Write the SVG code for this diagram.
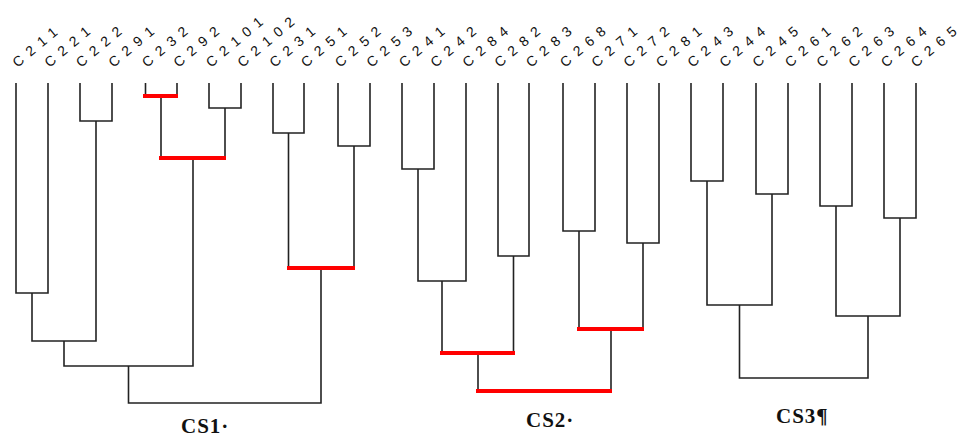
<svg xmlns="http://www.w3.org/2000/svg" width="961" height="438" viewBox="0 0 961 438">
  <style>
    .leaf { font-family: "Liberation Sans", Arial, sans-serif; font-size: 14px; fill: #111; }
    .cluster { font-family: "Liberation Serif", "Times New Roman", serif; font-size: 21px; font-weight: bold; letter-spacing: 1px; fill: #111; }
    .tree { fill: none; stroke: #222; stroke-width: 1.6; }
    .cut { fill: none; stroke: #ff0000; stroke-width: 4; stroke-linecap: butt; }
  </style>
  <rect width="961" height="438" fill="#ffffff"/>

  <!-- leaf labels, tilted 40 degrees up; dx opens the gaps between glyphs -->
  <g id="leaf-C211" transform="translate(17.5,68) rotate(-40)"><text class="leaf" dx="0 7 7 7">C211</text></g>
  <g id="leaf-C221" transform="translate(49.5,68) rotate(-40)"><text class="leaf" dx="0 7 7 7">C221</text></g>
  <g id="leaf-C222" transform="translate(81,68) rotate(-40)"><text class="leaf" dx="0 7 7 7">C222</text></g>
  <g id="leaf-C291" transform="translate(113.5,68) rotate(-40)"><text class="leaf" dx="0 7 7 7">C291</text></g>
  <g id="leaf-C232" transform="translate(147,68) rotate(-40)"><text class="leaf" dx="0 7 7 7">C232</text></g>
  <g id="leaf-C292" transform="translate(178.5,68) rotate(-40)"><text class="leaf" dx="0 7 7 7">C292</text></g>
  <g id="leaf-C2101" transform="translate(211,68) rotate(-40)"><text class="leaf" dx="0 7 7 7 7">C2101</text></g>
  <g id="leaf-C2102" transform="translate(242.5,68) rotate(-40)"><text class="leaf" dx="0 7 7 7 7">C2102</text></g>
  <g id="leaf-C231" transform="translate(274.5,68) rotate(-40)"><text class="leaf" dx="0 7 7 7">C231</text></g>
  <g id="leaf-C251" transform="translate(306,68) rotate(-40)"><text class="leaf" dx="0 7 7 7">C251</text></g>
  <g id="leaf-C252" transform="translate(340,68) rotate(-40)"><text class="leaf" dx="0 7 7 7">C252</text></g>
  <g id="leaf-C253" transform="translate(371.5,68) rotate(-40)"><text class="leaf" dx="0 7 7 7">C253</text></g>
  <g id="leaf-C241" transform="translate(404,68) rotate(-40)"><text class="leaf" dx="0 7 7 7">C241</text></g>
  <g id="leaf-C242" transform="translate(435.5,68) rotate(-40)"><text class="leaf" dx="0 7 7 7">C242</text></g>
  <g id="leaf-C284" transform="translate(467.5,68) rotate(-40)"><text class="leaf" dx="0 7 7 7">C284</text></g>
  <g id="leaf-C282" transform="translate(499.5,68) rotate(-40)"><text class="leaf" dx="0 7 7 7">C282</text></g>
  <g id="leaf-C283" transform="translate(531,68) rotate(-40)"><text class="leaf" dx="0 7 7 7">C283</text></g>
  <g id="leaf-C268" transform="translate(565,68) rotate(-40)"><text class="leaf" dx="0 7 7 7">C268</text></g>
  <g id="leaf-C271" transform="translate(596.5,68) rotate(-40)"><text class="leaf" dx="0 7 7 7">C271</text></g>
  <g id="leaf-C272" transform="translate(628.5,68) rotate(-40)"><text class="leaf" dx="0 7 7 7">C272</text></g>
  <g id="leaf-C281" transform="translate(661,68) rotate(-40)"><text class="leaf" dx="0 7 7 7">C281</text></g>
  <g id="leaf-C243" transform="translate(692.5,68) rotate(-40)"><text class="leaf" dx="0 7 7 7">C243</text></g>
  <g id="leaf-C244" transform="translate(724.5,68) rotate(-40)"><text class="leaf" dx="0 7 7 7">C244</text></g>
  <g id="leaf-C245" transform="translate(757.5,68) rotate(-40)"><text class="leaf" dx="0 7 7 7">C245</text></g>
  <g id="leaf-C261" transform="translate(790,68) rotate(-40)"><text class="leaf" dx="0 7 7 7">C261</text></g>
  <g id="leaf-C262" transform="translate(821.5,68) rotate(-40)"><text class="leaf" dx="0 7 7 7">C262</text></g>
  <g id="leaf-C263" transform="translate(853.5,68) rotate(-40)"><text class="leaf" dx="0 7 7 7">C263</text></g>
  <g id="leaf-C264" transform="translate(886,68) rotate(-40)"><text class="leaf" dx="0 7 7 7">C264</text></g>
  <g id="leaf-C265" transform="translate(916,68) rotate(-40)"><text class="leaf" dx="0 7 7 7">C265</text></g>

  <!-- cluster names under each subtree -->
  <g id="cluster-CS1"><text class="cluster" x="181" y="433">CS1·</text></g>
  <g id="cluster-CS2"><text class="cluster" x="526" y="427">CS2·</text></g>
  <g id="cluster-CS3"><text class="cluster" x="776" y="423">CS3¶</text></g>

  <!-- dendrogram links: each merge drops from both children to its height -->
  <g id="connectors">
    <g class="tree">
      <!-- CS1 -->
      <path d="M16,83 V293 H48 V83"/>
      <path d="M80,83 V121 H112 V83"/>
      <path d="M32,293 V341 H96 V121"/>
      <path d="M145.5,83 V96 H177 V83"/>
      <path d="M209,83 V108 H241 V83"/>
      <path d="M161,96 V158 H225 V108"/>
      <path d="M64,341 V366 H193 V158"/>
      <path d="M273,83 V133 H304 V83"/>
      <path d="M338,83 V146 H370 V83"/>
      <path d="M288.5,133 V268 H354 V146"/>
      <path d="M128.5,366 V403 H321 V268"/>
      <!-- CS2 -->
      <path d="M402,83 V169 H434 V83"/>
      <path d="M418,169 V281 H466 V83"/>
      <path d="M498,83 V256 H529 V83"/>
      <path d="M442,281 V353 H513.5 V256"/>
      <path d="M563,83 V231 H595 V83"/>
      <path d="M627,83 V243 H659 V83"/>
      <path d="M579,231 V329 H643 V243"/>
      <path d="M478,353 V391 H611 V329"/>
      <!-- CS3 -->
      <path d="M691,83 V181 H723 V83"/>
      <path d="M756,83 V194 H788 V83"/>
      <path d="M707,181 V305 H772 V194"/>
      <path d="M820,83 V206 H852 V83"/>
      <path d="M884,83 V218 H916 V83"/>
      <path d="M836,206 V316 H900 V218"/>
      <path d="M739.5,305 V378 H868 V316"/>
    </g>
    <!-- highlighted merges -->
    <g class="cut">
      <line x1="143" y1="96" x2="178" y2="96"/>
      <line x1="159" y1="158" x2="226" y2="158"/>
      <line x1="287" y1="268" x2="355" y2="268"/>
      <line x1="440" y1="353" x2="515" y2="353"/>
      <line x1="577" y1="329" x2="644" y2="329"/>
      <line x1="476" y1="391" x2="612" y2="391"/>
    </g>
  </g>
</svg>
